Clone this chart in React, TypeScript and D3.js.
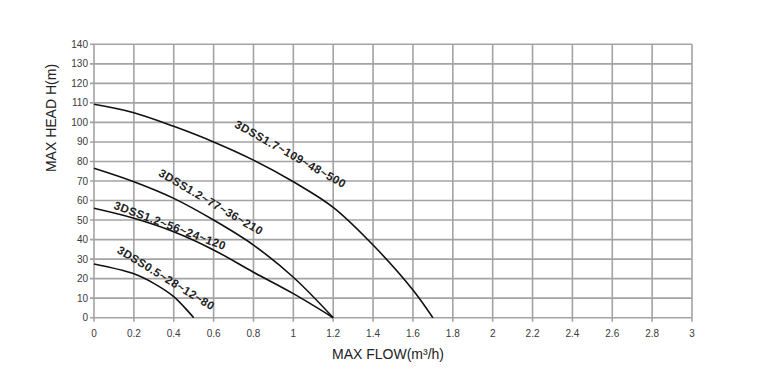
import React from "react";
import * as d3 from "d3";

const xTickValues = [0, 0.2, 0.4, 0.6, 0.8, 1, 1.2, 1.4, 1.6, 1.8, 2, 2.2, 2.4, 2.6, 2.8, 3];
const yTickValues = [0, 10, 20, 30, 40, 50, 60, 70, 80, 90, 100, 110, 120, 130, 140];

const flow109 = [0, 0.2, 0.4, 0.6, 0.8, 1.0, 1.2, 1.4, 1.6, 1.7];
const head109 = [109.3, 105, 98, 90, 80.7, 69.6, 56.5, 37.2, 14.2, 0];
const flow77 = [0, 0.2, 0.4, 0.6, 0.8, 1.0, 1.2];
const head77 = [76.5, 69.6, 61.1, 50, 37.2, 20.7, 0];
const flow56 = [0, 0.2, 0.4, 0.6, 0.8, 1.0, 1.2];
const head56 = [56, 50.9, 44, 34.7, 23.3, 12.3, 0];
const flow28 = [0, 0.2, 0.3, 0.4, 0.5];
const head28 = [27.5, 22.5, 17.6, 10.8, 0];

const seriesNames = ["3DSS1.7~109~48~500", "3DSS1.2~77~36~210", "3DSS1.2~56~24~120", "3DSS0.5~28~12~80"];

const xTitle = "MAX FLOW(m³/h)";
const yTitle = "MAX HEAD H(m)";

export default function App() {
  const W = 768, H = 380;
  const x = d3.scaleLinear().domain([0, 3]).range([94, 692]);
  const y = d3.scaleLinear().domain([0, 140]).range([317.7, 44.3]);
  const font = "'Liberation Sans', Arial, sans-serif";
  const grid = "#a3a3a3";

  const line = d3
    .line<[number, number]>()
    .x((d) => x(d[0]))
    .y((d) => y(d[1]))
    .curve(d3.curveCatmullRom.alpha(0.5));

  const series = [
    { f: flow109, h: head109 },
    { f: flow77, h: head77 },
    { f: flow56, h: head56 },
    { f: flow28, h: head28 },
  ];

  const labels = [
    { name: seriesNames[0], cx: 290.5, cy: 154, a: 29.4 },
    { name: seriesNames[1], cx: 211, cy: 202, a: 30.5 },
    { name: seriesNames[2], cx: 170, cy: 225.5, a: 20.6 },
    { name: seriesNames[3], cx: 166, cy: 278, a: 31.6 },
  ];

  return (
    <svg width={W} height={H} style={{ position: "absolute", left: 0, top: 0, background: "#fff" }}>
      <rect x={0} y={0} width={W} height={H} fill="#fff" />
      {xTickValues.map((v) => (
        <line key={"gx" + v} x1={x(v)} x2={x(v)} y1={y(140)} y2={y(0) + 4} stroke={grid} strokeWidth={1.6} />
      ))}
      {yTickValues.map((v) => (
        <line key={"gy" + v} x1={x(0) - 4} x2={x(3)} y1={y(v)} y2={y(v)} stroke={grid} strokeWidth={1.6} />
      ))}
      {yTickValues.map((v) => (
        <text key={"ty" + v} x={x(0) - 6} y={y(v)} dy="0.35em" textAnchor="end" fontFamily={font} fontSize={10} fill="#3a3a3a">
          {v}
        </text>
      ))}
      {xTickValues.map((v) => (
        <text key={"tx" + v} x={x(v)} y={y(0) + 16} dy="0.35em" textAnchor="middle" fontFamily={font} fontSize={10} fill="#3a3a3a">
          {String(v)}
        </text>
      ))}
      {series.map((s, i) => (
        <path
          key={"s" + i}
          d={line(s.f.map((f, j) => [f, s.h[j]] as [number, number])) || ""}
          fill="none"
          stroke="#111"
          strokeWidth={1.6}
        />
      ))}
      {labels.map((l) => (
        <text
          key={l.name}
          x={l.cx}
          y={l.cy}
          transform={`rotate(${l.a} ${l.cx} ${l.cy})`}
          textAnchor="middle"
          dy="0.35em"
          fontFamily={font}
          fontSize={11.5}
          fontWeight="bold"
          letterSpacing={0.45}
          fill="#222"
        >
          {l.name}
        </text>
      ))}
      <text x={388} y={354} dy="0.35em" textAnchor="middle" fontFamily={font} fontSize={14} fill="#222">
        {xTitle}
      </text>
      <text
        x={51}
        y={118}
        dy="0.35em"
        transform="rotate(-90 51 118)"
        textAnchor="middle"
        fontFamily={font}
        fontSize={14}
        fill="#222"
      >
        {yTitle}
      </text>
    </svg>
  );
}
